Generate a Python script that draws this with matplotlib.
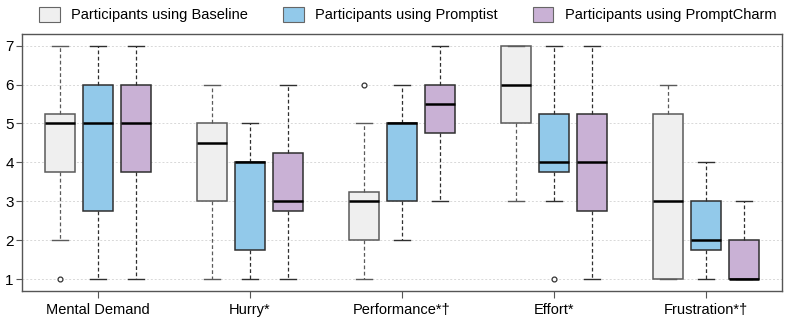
import matplotlib
matplotlib.use("Agg")
import matplotlib.pyplot as plt
from matplotlib.patches import Patch

plt.rcParams['font.family'] = ['Liberation Sans', 'DejaVu Sans']

categories = ["Mental Demand", "Hurry*", "Performance*\u2020", "Effort*", "Frustration*\u2020"]
groups = ["Participants using Baseline", "Participants using Promptist", "Participants using PromptCharm"]
colors = ["#efefef", "#92c9ea", "#c9b1d5"]
edges = ["#5a5a5a", "#2f2f2f", "#2f2f2f"]

# (whislo, q1, med, q3, whishi, fliers) per category
baseline = [(2, 3.75, 5, 5.25, 7, [1]),
            (1, 3, 4.5, 5, 6, []),
            (1, 2, 3, 3.25, 5, [6]),
            (3, 5, 6, 7, 7, []),
            (1, 1, 3, 5.25, 6, [])]
promptist = [(1, 2.75, 5, 6, 7, []),
             (1, 1.75, 4, 4, 5, []),
             (2, 3, 5, 5, 6, []),
             (3, 3.75, 4, 5.25, 7, [1]),
             (1, 1.75, 2, 3, 4, [])]
promptcharm = [(1, 3.75, 5, 6, 7, []),
               (1, 2.75, 3, 4.25, 6, []),
               (3, 4.75, 5.5, 6, 7, []),
               (1, 2.75, 4, 5.25, 7, []),
               (1, 1, 1, 2, 3, [])]

fig, ax = plt.subplots(figsize=(7.89, 3.2), dpi=100)
fig.subplots_adjust(left=0.028, right=0.991, top=0.894, bottom=0.091)

for gi, data in enumerate([baseline, promptist, promptcharm]):
    stats = []
    for lo, q1, med, q3, hi, fl in data:
        stats.append(dict(whislo=lo, q1=q1, med=med, q3=q3, whishi=hi, fliers=fl))
    pos = [i + (gi - 1) * 0.25 for i in range(len(data))]
    ec = edges[gi]
    ax.bxp(stats, positions=pos, widths=0.2, capwidths=0.1, patch_artist=True,
           showfliers=True, manage_ticks=False,
           boxprops=dict(facecolor=colors[gi], edgecolor=ec, linewidth=1.1),
           medianprops=dict(color="black", linewidth=1.8),
           whiskerprops=dict(color=ec, linewidth=0.9, linestyle=(0, (3, 2))),
           capprops=dict(color=ec, linewidth=1.0),
           flierprops=dict(marker="o", markersize=3.5, markerfacecolor="white",
                           markeredgecolor="#333333", markeredgewidth=0.9),
           zorder=3)

ax.set_xlim(-0.5, 4.5)
ax.set_ylim(0.7, 7.3)
ax.set_yticks(range(1, 8))
ax.set_xticks(range(len(categories)))
ax.set_xticklabels(categories, fontsize=10.5)
ax.tick_params(axis="y", labelsize=11, length=4, color="#555555", pad=2)
ax.tick_params(axis="x", length=5, color="#555555", pad=4)
ax.yaxis.grid(True, linestyle=(0, (2, 2)), color="#d8d8d8", linewidth=0.7)
ax.set_axisbelow(True)
for s in ax.spines.values():
    s.set_color("#555555")
    s.set_linewidth(1.0)

handles = [Patch(facecolor=c, edgecolor="#666666", linewidth=0.8) for c in colors]
ax.legend(handles, groups, ncol=3, loc="lower center", bbox_to_anchor=(0.508, 1.0),
          frameon=False, fontsize=10.5, handlelength=1.4, handleheight=1.2,
          handletextpad=0.8, columnspacing=2.4, borderaxespad=0.4)

fig.savefig("out.png", dpi=100)
